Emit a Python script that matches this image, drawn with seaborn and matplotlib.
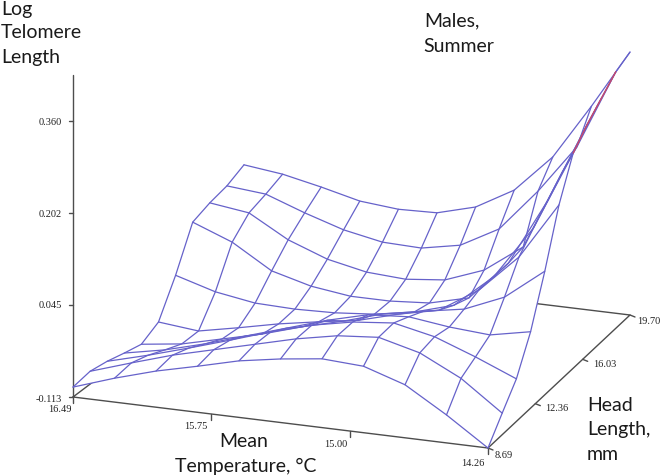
import numpy as np
import pandas as pd
import seaborn as sns
import matplotlib.pyplot as plt

# grid values, mean temperature (left to right) and head length (front to back)
temps = [16.49, 16.267, 16.044, 15.821, 15.598, 15.375, 15.152, 14.929, 14.706, 14.483, 14.26]
heads = [8.69, 9.791, 10.892, 11.993, 13.094, 14.195, 15.296, 16.397, 17.498, 18.599, 19.70]

# log telomere length, one row per head length
z_h0 = [-0.096, -0.072, -0.051, -0.034, -0.016, -0.004, 0.005, 0.001, -0.022, -0.065, -0.113]
z_h1 = [-0.091, -0.068, -0.046, -0.028, -0.010, 0.008, 0.022, 0.028, 0.010, -0.025, -0.076]
z_h2 = [-0.096, -0.077, -0.056, -0.034, -0.011, 0.009, 0.023, 0.030, 0.015, -0.011, -0.040]
z_h3 = [-0.104, -0.090, -0.071, -0.049, -0.027, -0.005, 0.013, 0.018, 0.009, 0.004, 0.018]
z_h4 = [-0.111, -0.102, -0.085, -0.068, -0.047, -0.029, -0.008, 0.005, 0.017, 0.046, 0.099]
z_h5 = [-0.095, -0.102, -0.088, -0.073, -0.061, -0.050, -0.031, -0.016, 0.027, 0.092, 0.190]
z_h6 = [-0.037, -0.057, -0.068, -0.070, -0.068, -0.062, -0.050, -0.030, 0.027, 0.119, 0.256]
z_h7 = [0.032, 0.006, -0.035, -0.053, -0.062, -0.062, -0.057, -0.040, 0.028, 0.144, 0.283]
z_h8 = [0.043, 0.034, -0.004, -0.029, -0.043, -0.047, -0.040, -0.015, 0.033, 0.170, 0.305]
z_h9 = [0.050, 0.044, 0.020, -0.001, -0.014, -0.016, -0.003, 0.033, 0.106, 0.190, 0.327]
z_h10 = [0.064, 0.056, 0.042, 0.026, 0.020, 0.022, 0.040, 0.077, 0.142, 0.237, 0.338]
z_rows = [z_h0, z_h1, z_h2, z_h3, z_h4, z_h5, z_h6, z_h7, z_h8, z_h9, z_h10]

z_ticks = [0.360, 0.202, 0.045, -0.113]
t_ticks = [16.49, 15.75, 15.00, 14.26]
h_ticks = [8.69, 12.36, 16.03, 19.70]

blue = '#6662ca'
axis_col = '#4d4d4d'


def project(t, h, z):
    # floor corners of the box in figure pixels, bilinear between them
    u = (16.49 - t) / 2.23
    v = (h - 8.69) / 11.01
    x = (1 - v) * (73 + 415 * u) + v * (244 + 386 * u)
    y = (1 - v) * (397 + 51 * u) + v * (268 + 47 * u)
    return x, y - (z + 0.113) * 583


zz = np.array(z_rows)
rows = []
for j, h in enumerate(heads):
    for i, t in enumerate(temps):
        sx, sy = project(t, h, zz[j, i])
        rows.append({'i': i, 'j': j, 'sx': sx, 'sy': sy})
df = pd.DataFrame(rows)

sns.set_theme(style='white')
fig = plt.figure(figsize=(6.62, 4.76), dpi=100)
ax = fig.add_axes([0, 0, 1, 1])

# floor and height axis
line_kw = dict(color=axis_col, lw=1.0, zorder=1)
corners = [(16.49, 8.69), (14.26, 8.69), (14.26, 19.70), (16.49, 19.70), (16.49, 8.69)]
ax.plot(*zip(*[project(t, h, -0.113) for t, h in corners]), **line_kw)
x0, y0 = project(16.49, 8.69, -0.113)
ax.plot([x0, x0], [y0, 75], **line_kw)

# white cells so the surface hides the floor behind it
pts = df.set_index(['j', 'i'])
for j in range(10):
    for i in range(10):
        cell = [(j, i), (j, i + 1), (j + 1, i + 1), (j + 1, i)]
        ax.fill([pts.loc[c, 'sx'] for c in cell], [pts.loc[c, 'sy'] for c in cell],
                color='white', lw=0, zorder=2)

wire_kw = dict(estimator=None, sort=False, color=blue, lw=0.9, legend=False, ax=ax, zorder=3)
sns.lineplot(data=df, x='sx', y='sy', units='j', **wire_kw)
sns.lineplot(data=df.sort_values(['i', 'j']), x='sx', y='sy', units='i', **wire_kw)

# reddish stretch on the top of the right edge
edge = df[(df['i'] == 10) & (df['j'] >= 6) & (df['j'] <= 9)]
sns.lineplot(data=edge, x='sx', y='sy', estimator=None, sort=False, color='#c8486a',
             lw=1.0, legend=False, ax=ax, zorder=4)

# ticks and their labels
tick_font = dict(family='Liberation Serif', fontsize=7.5, color='#222222', va='center')
for z in z_ticks:
    x, y = project(16.49, 8.69, z)
    ax.plot([x - 4, x], [y, y], **line_kw)
    dy = 3 if z == -0.113 else 1
    ax.text(x - 11, y + dy, f'{z:.3f}', ha='right', **tick_font)
for t in t_ticks:
    x, y = project(t, 8.69, -0.113)
    ax.plot([x, x], [y, y + 6], **line_kw)
    if t == 16.49:
        ax.text(x - 1, y + 12, f'{t:.2f}', ha='right', **tick_font)
    else:
        ax.text(x - 3, y + 13 + (t == 14.26) * 2, f'{t:.2f}', ha='right', **tick_font)
for h in h_ticks:
    x, y = project(14.26, h, -0.113)
    ax.plot([x, x + 5], [y, y + 2], **line_kw)
    if h in (8.69, 19.70):
        ax.text(x + 7, y + 7, f'{h:.2f}', ha='left', **tick_font)
    else:
        ax.text(x + 10, y + 5, f'{h:.2f}', ha='left', **tick_font)

# big labels pasted over the plot
big = dict(family='Lato', fontsize=14, color='#1a1a1a', va='baseline', ha='left')
ax.text(1, 15, 'Log', **big)
ax.text(1, 38, 'Telomere', **big)
ax.text(1, 63, 'Length', **big)
ax.text(424, 26, 'Males,', **big)
ax.text(423, 52, 'Summer', **big)
ax.text(219, 447, 'Mean', **big)
ax.text(175, 472, 'Temperature, °C', **big)
ax.text(587, 411, 'Head', **big)
ax.text(587, 435, 'Length,', **big)
ax.text(587, 460, 'mm', **big)

ax.set_xlim(0, 662)
ax.set_ylim(476, 0)
ax.axis('off')
fig.savefig('out.png', dpi=100)
